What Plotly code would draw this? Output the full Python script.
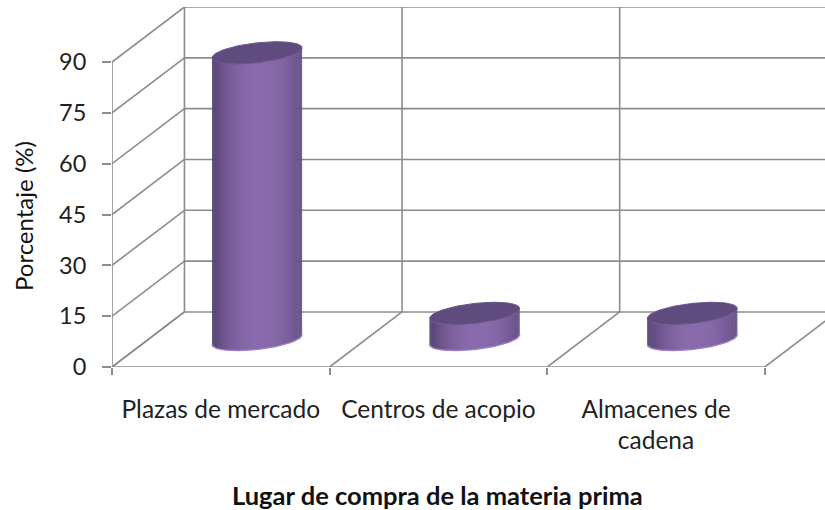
import numpy as np
import plotly.graph_objects as go

# Data
categories = ["Plazas de mercado", "Centros de acopio", "Almacenes de<br>cadena"]
values = [84.6, 7.7, 7.7]
y_ticks = [0, 15, 30, 45, 60, 75, 90]
y_max = 90

# Pseudo-3D projection parameters (depth offset in axis units)
DX = 0.333          # horizontal shift of the back wall, category units
DY = 16.24          # vertical shift of the back wall, value units
GRID = "#8c8c8c"
GW = 1.6

fig = go.Figure()


def line(xs, ys, color=GRID, width=GW):
    fig.add_trace(go.Scatter(x=xs, y=ys, mode="lines",
                             line=dict(color=color, width=width),
                             hoverinfo="skip", showlegend=False))


n = len(categories)
left = -0.5
right = n - 0.5

# back wall gridlines + left side wall diagonals
for v in y_ticks:
    line([left + DX, right + DX + 1], [v + DY, v + DY])
    line([left, left + DX], [v, v + DY])
# back wall verticals
for k in range(n + 1):
    line([left + k + DX, left + k + DX], [DY, y_max + DY])
# floor: front edge and diagonals
line([left, right], [0, 0])
for k in range(n + 1):
    line([left + k, left + k + DX], [0, DY])
# front value axis
line([left, left], [0, y_max])

# Cylinders
a = 0.207            # radius, category units
b = 2.95             # ellipse semi-minor, value units
s = 1.45             # ellipse tilt, value units
cx_off = DX / 2
cy_off = DY / 2


def shade(u):
    # u in [-1, 1] across the cylinder face; brightest just right of centre
    lo = np.array([0x46, 0x37, 0x62])
    hi = np.array([0x8a, 0x6b, 0xad])
    w = np.clip(1 - ((u - 0.08) / 1.12) ** 2, 0, 1) ** 0.7
    c = lo + (hi - lo) * w
    return "rgb(%d,%d,%d)" % tuple(c.astype(int))


for i, v in enumerate(values):
    cx = i + cx_off
    y0 = cy_off
    y1 = cy_off + v
    m = 60
    ts = np.linspace(np.pi, 2 * np.pi, m + 1)
    dt = ts[1] - ts[0]
    for j in range(m):
        t1 = ts[j]
        t2 = min(ts[j + 1] + 0.6 * dt, 2 * np.pi)
        x1, x2 = cx + a * np.cos(t1), cx + a * np.cos(t2)
        yb1 = y0 + b * np.sin(t1) + s * np.cos(t1)
        yb2 = y0 + b * np.sin(t2) + s * np.cos(t2)
        yt1 = y1 + b * np.sin(t1) + s * np.cos(t1)
        yt2 = y1 + b * np.sin(t2) + s * np.cos(t2)
        u = np.cos(ts[j] + dt / 2)
        col = shade(u)
        fig.add_trace(go.Scatter(x=[x1, x2, x2, x1, x1], y=[yb1, yb2, yt2, yt1, yb1],
                                 mode="lines", fill="toself", fillcolor=col,
                                 line=dict(width=0),
                                 hoverinfo="skip", showlegend=False))
    # lighter rim along the base
    tb = np.linspace(np.pi, 2 * np.pi, 60)
    fig.add_trace(go.Scatter(x=cx + a * np.cos(tb), y=y0 + b * np.sin(tb) + s * np.cos(tb),
                             mode="lines", line=dict(color="#9c84c4", width=1.4),
                             hoverinfo="skip", showlegend=False))
    # top cap
    tt = np.linspace(0, 2 * np.pi, 120)
    fig.add_trace(go.Scatter(x=cx + a * np.cos(tt), y=y1 + b * np.sin(tt) + s * np.cos(tt),
                             mode="lines", fill="toself", fillcolor="#5f4b7e",
                             line=dict(color="#6a5589", width=1),
                             hoverinfo="skip", showlegend=False))

# secondary x axis carries the category labels at category centres
fig.add_trace(go.Scatter(x=[0, n - 1], y=[0, 0], xaxis="x2", mode="markers",
                         marker=dict(opacity=0), hoverinfo="skip", showlegend=False))

font = "Lato, 'Open Sans', sans-serif"
x_range = [left, left + 713 / 217.6]
fig.update_layout(
    width=825, height=510,
    margin=dict(l=112, r=0, t=7, b=143),
    plot_bgcolor="white", paper_bgcolor="white",
    font=dict(family=font, color="#222222"),
    xaxis=dict(range=x_range, tickvals=[left + k for k in range(n + 1)],
               ticktext=[""] * (n + 1), ticks="outside", ticklen=7, tickwidth=GW,
               tickcolor=GRID, showgrid=False, zeroline=False, showline=False),
    xaxis2=dict(range=x_range, overlaying="x", side="bottom", matches="x",
                tickvals=list(range(n)), ticktext=categories, ticks="",
                tickfont=dict(size=24.5, color="#222222", family=font),
                showgrid=False, zeroline=False, showline=False, ticklabelstandoff=25),
    yaxis=dict(range=[0, y_max + DY], tickvals=y_ticks, ticks="outside", ticklen=9,
               tickwidth=GW, tickcolor=GRID, showgrid=False, zeroline=False,
               showline=False, tickfont=dict(size=23.5, color="#222222", family=font),
               ticklabelstandoff=11),
    annotations=[
        dict(text="Porcentaje (%)", x=24, y=216, xref="paper", yref="paper",
             xanchor="center", yanchor="middle",
             showarrow=False, textangle=-90, font=dict(size=24, color="#111111")),
        dict(text="<b>Lugar de compra de la materia prima</b>", x=437, y=495,
             xref="paper", yref="paper", xanchor="center", yanchor="middle",
             showarrow=False, font=dict(size=25.5, color="#111111")),
    ],
)

# annotation positions above are given in pixels; convert to paper fractions
for ann in fig.layout.annotations:
    px, py = ann.x, ann.y
    ann.x = (px - 112) / 713
    ann.y = (367 - py) / 360

fig.write_html("out.html")
